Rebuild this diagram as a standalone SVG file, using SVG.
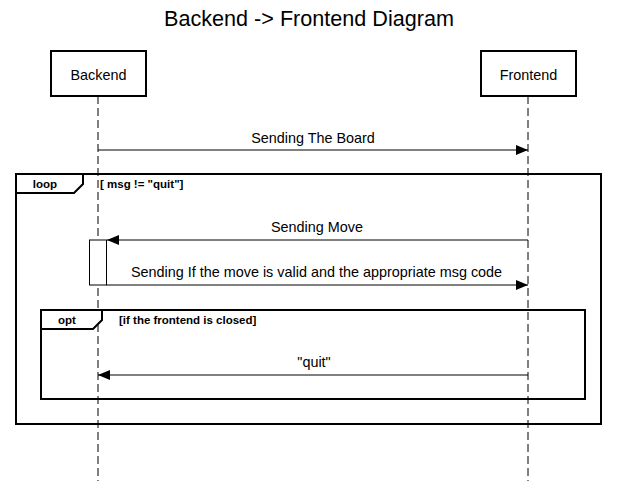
<svg xmlns="http://www.w3.org/2000/svg" width="617" height="481" viewBox="0 0 617 481">
<defs>
<style>
text{font-family:"Liberation Sans",Arial,sans-serif;fill:#000}
.title{font-size:21.6px}
.lbl{font-size:14.4px}
.mid{text-anchor:middle}
.frm{font-size:11.5px;font-weight:bold}
.box{fill:#fff;stroke:#000;stroke-width:2}
.life{stroke:#000;stroke-width:1;stroke-dasharray:8 4;fill:none}
.frame{fill:none;stroke:#000;stroke-width:2}
.tab{fill:#fff;stroke:#000;stroke-width:2}
.msg{stroke:#000;stroke-width:1;fill:none}
.act{fill:#fff;stroke:#000;stroke-width:1}
</style>
<marker id="ah" viewBox="0 0 12 10" refX="12" refY="5" markerWidth="12" markerHeight="10" markerUnits="userSpaceOnUse" orient="auto">
<path d="M0,0 L12,5 L0,10 Z" fill="#000"/>
</marker>
</defs>
<rect width="617" height="481" fill="#fff"/>
<text class="title mid" x="309" y="25.5">Backend -&gt; Frontend Diagram</text>

<g id="lifelines">
<line class="life" x1="98" y1="96" x2="98" y2="481"/>
<line class="life" x1="528" y1="96" x2="528" y2="481"/>
</g>

<g id="backend">
<rect class="box" x="51" y="51" width="95" height="45"/>
<text class="lbl mid" x="98.5" y="80">Backend</text>
</g>
<g id="frontend">
<rect class="box" x="481" y="51" width="95" height="45"/>
<text class="lbl mid" x="528.5" y="80">Frontend</text>
</g>

<g id="loop">
<rect class="frame" x="16" y="174" width="585" height="250"/>
<path class="tab" d="M16,174 L83,174 L83,184 L74,193 L16,193 Z"/>
<text class="frm mid" x="45" y="187.5">loop</text>
<text class="frm" x="100" y="187.5">[ msg != "quit"]</text>
</g>

<g id="opt">
<rect class="frame" x="41" y="310" width="544" height="89"/>
<path class="tab" d="M41,310 L102,310 L102,320 L93,329 L41,329 Z"/>
<text class="frm mid" x="67" y="323.5">opt</text>
<text class="frm" x="119" y="323.5">[if the frontend is closed]</text>
</g>

<g id="activation">
<rect class="act" x="89.5" y="240" width="17" height="45"/>
</g>

<g id="connectors">
<line class="msg" x1="98" y1="150" x2="528" y2="150" marker-end="url(#ah)"/>
<text class="lbl mid" x="313" y="143">Sending The Board</text>
<line class="msg" x1="528" y1="240" x2="107" y2="240" marker-end="url(#ah)"/>
<text class="lbl mid" x="317" y="232">Sending Move</text>
<line class="msg" x1="106.5" y1="285" x2="528" y2="285" marker-end="url(#ah)"/>
<text class="lbl mid" x="316.5" y="277">Sending If the move is valid and the appropriate msg code</text>
<line class="msg" x1="528" y1="375" x2="98" y2="375" marker-end="url(#ah)"/>
<text class="lbl mid" x="314" y="367">"quit"</text>
</g>
</svg>
